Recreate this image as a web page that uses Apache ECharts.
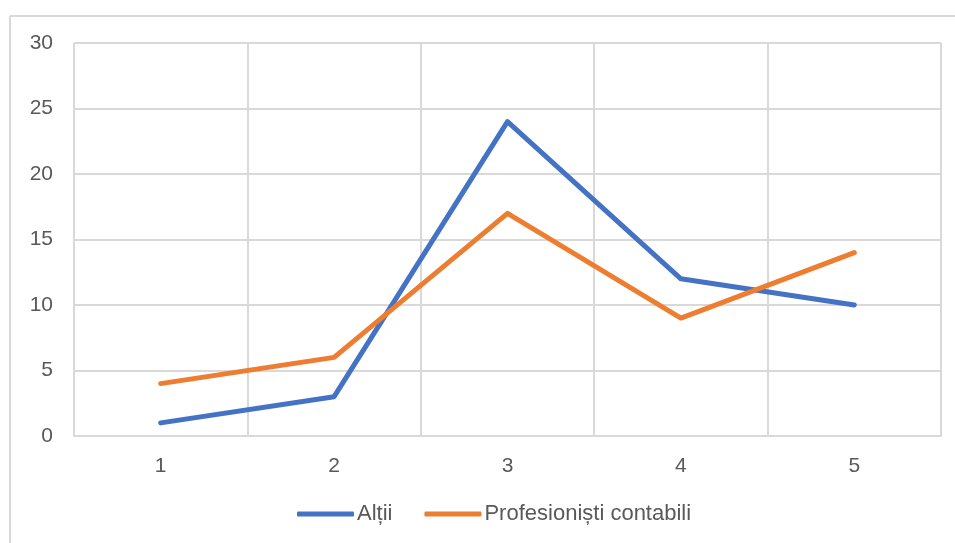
<!DOCTYPE html>
<html>
<head>
<meta charset="utf-8">
<script src="https://cdn.jsdelivr.net/npm/echarts@6/dist/echarts.min.js"></script>
<style>
  html, body { margin: 0; padding: 0; background: #ffffff; }
  #chart { width: 955px; height: 543px; }
</style>
</head>
<body>
<div id="chart"></div>
<script>
// Categories and series values
const categories = ['1', '2', '3', '4', '5'];
const altii = [1, 3, 24, 12, 10];
const profesionisti = [4, 6, 17, 9, 14];
const seriesNames = ['Alții', 'Profesioniști contabili'];

const textColor = '#595959';
const gridColor = '#d9d9d9';
const fontFamily = '"Liberation Sans", Arial, sans-serif';

const chart = echarts.init(document.getElementById('chart'), null, { renderer: 'canvas' });

chart.setOption({
  backgroundColor: '#ffffff',
  animation: false,
  textStyle: { fontFamily: fontFamily },
  graphic: [
    // outer chart frame (top and left edges)
    { type: 'line', shape: { x1: 10, y1: 16, x2: 955, y2: 16 }, style: { stroke: gridColor, lineWidth: 2 } },
    { type: 'line', shape: { x1: 10, y1: 16, x2: 10, y2: 543 }, style: { stroke: gridColor, lineWidth: 2 } }
  ],
  grid: { left: 74, right: 14, top: 43, bottom: 107, containLabel: false },
  legend: {
    data: seriesNames,
    bottom: 13,
    left: 292,
    icon: 'roundRect',
    itemWidth: 57,
    itemHeight: 5,
    itemGap: 32,
    textStyle: { color: textColor, fontSize: 22, fontFamily: fontFamily, padding: [0, 0, 0, -2] }
  },
  xAxis: {
    type: 'category',
    data: categories,
    boundaryGap: true,
    axisLine: { show: true, lineStyle: { color: gridColor, width: 2 } },
    axisTick: { show: false },
    axisLabel: { color: textColor, fontSize: 21, margin: 20, fontFamily: fontFamily },
    splitLine: { show: true, lineStyle: { color: gridColor, width: 2 } }
  },
  yAxis: {
    type: 'value',
    min: 0,
    max: 30,
    interval: 5,
    axisLine: { show: false },
    axisTick: { show: false },
    axisLabel: { color: textColor, fontSize: 21, margin: 21, fontFamily: fontFamily },
    splitLine: { show: true, lineStyle: { color: gridColor, width: 2 } }
  },
  series: [
    {
      name: seriesNames[0],
      type: 'line',
      data: altii,
      symbol: 'none',
      lineStyle: { color: '#4472C4', width: 5, cap: 'round', join: 'round' },
      itemStyle: { color: '#4472C4' }
    },
    {
      name: seriesNames[1],
      type: 'line',
      data: profesionisti,
      symbol: 'none',
      lineStyle: { color: '#ED7D31', width: 5, cap: 'round', join: 'round' },
      itemStyle: { color: '#ED7D31' }
    }
  ]
});
</script>
</body>
</html>
